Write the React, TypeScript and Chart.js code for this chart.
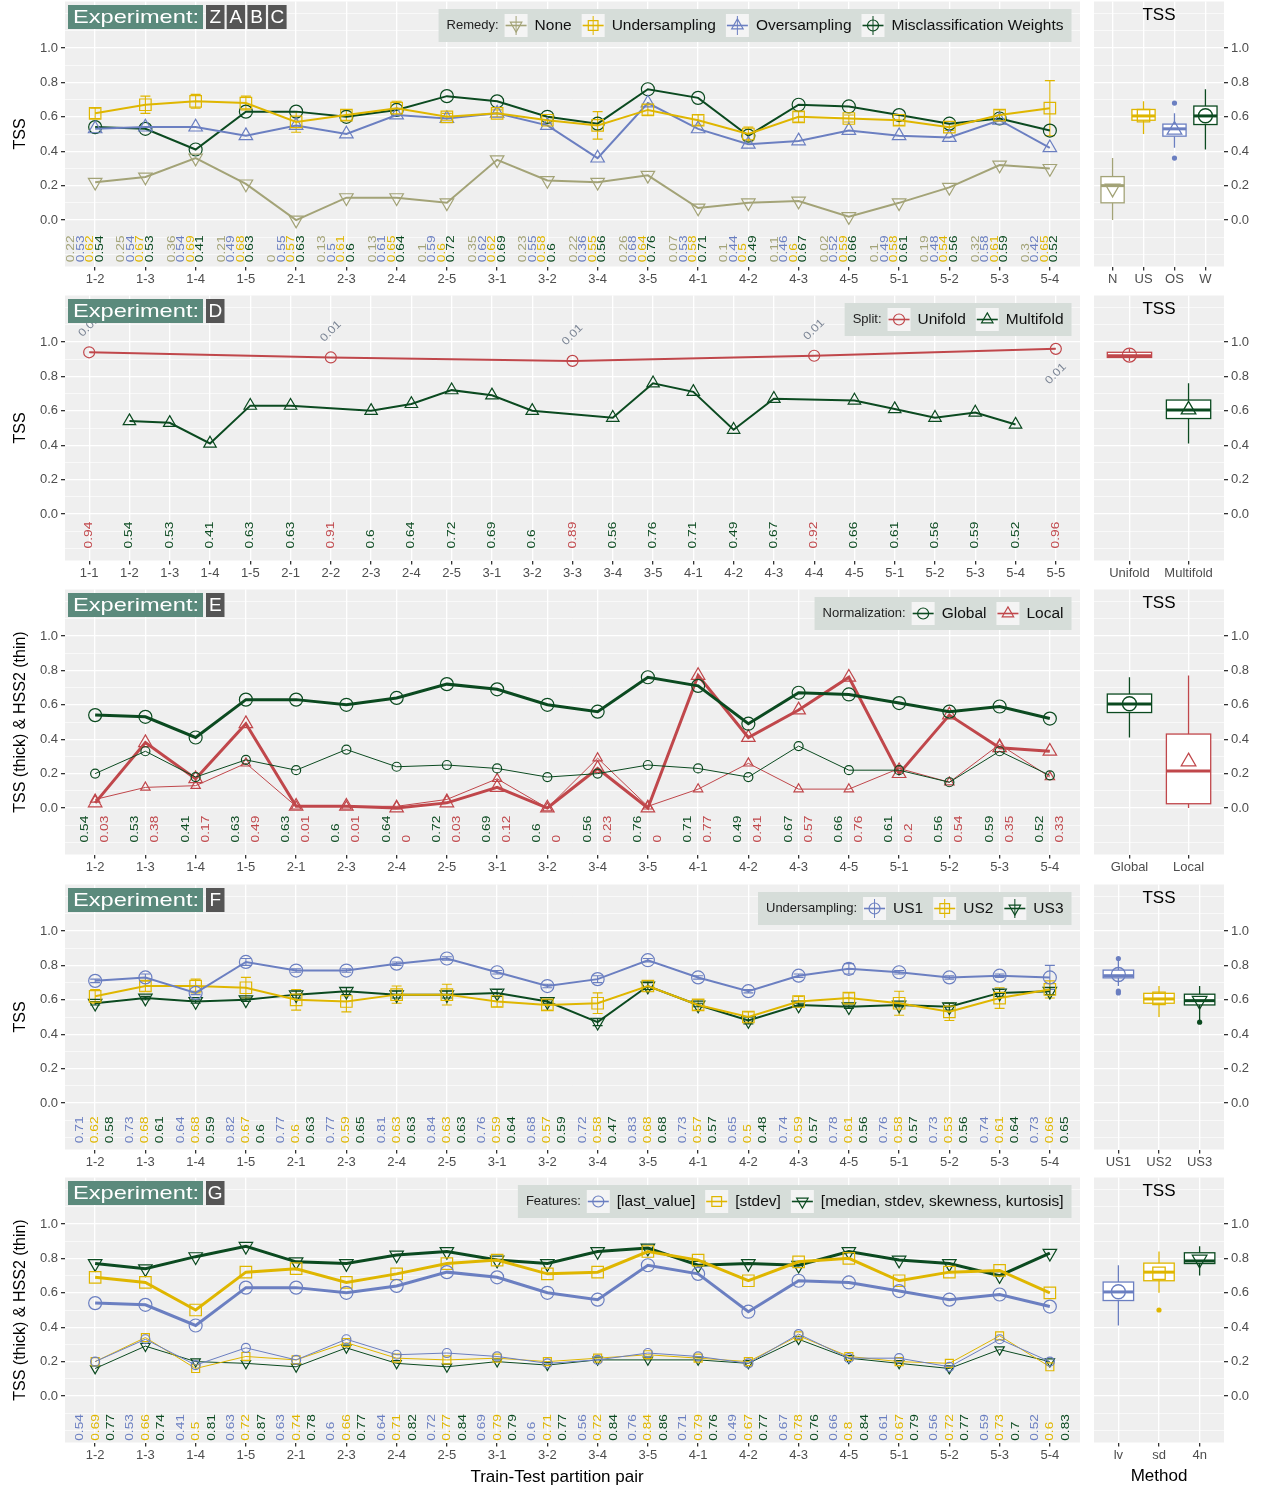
import React, { useEffect, useRef } from 'react';
import { Chart, registerables } from 'chart.js';
Chart.register(...registerables);

const FONT = '"Liberation Sans", Arial, Helvetica, sans-serif';
const TICK = '#4d4d4d';
const PANEL_BG = '#efefef';
const OLIVE = '#a3a377';
const GOLD = '#dfb600';
const BLUE = '#6b7fc1';
const GREEN = '#0b4a20';
const RED = '#c0474b';

const PAIRS = ['1-2','1-3','1-4','1-5','2-1','2-3','2-4','2-5','3-1','3-2','3-4','3-5','4-1','4-2','4-3','4-5','5-1','5-2','5-3','5-4'];
const PAIRS_ALL = ['1-1','1-2','1-3','1-4','1-5','2-1','2-2','2-3','2-4','2-5','3-1','3-2','3-3','3-4','3-5','4-1','4-2','4-3','4-4','4-5','5-1','5-2','5-3','5-4','5-5'];

// Experiment Z A B C (remedies)
const remedyNone = [0.22,0.25,0.36,0.21,0,0.13,0.13,0.1,0.35,0.23,0.22,0.26,0.07,0.1,0.11,0.02,0.1,0.19,0.32,0.3];
const remedyUnder = [0.62,0.67,0.69,0.68,0.57,0.61,0.65,0.6,0.62,0.58,0.55,0.64,0.58,0.5,0.6,0.59,0.58,0.54,0.61,0.65];
const remedyUnderSd = [0.03,0.05,0.04,0.04,0.06,0.03,0.04,0.02,0.02,0.02,0.08,0.03,0.03,0.04,0.03,0.02,0.03,0.02,0.03,0.16];
const remedyOver = [0.53,0.54,0.54,0.49,0.55,0.5,0.61,0.59,0.62,0.55,0.36,0.68,0.53,0.44,0.46,0.52,0.49,0.48,0.58,0.42];
const remedyWeights = [0.54,0.53,0.41,0.63,0.63,0.6,0.64,0.72,0.69,0.6,0.56,0.76,0.71,0.49,0.67,0.66,0.61,0.56,0.59,0.52];
const remedyCats = ['N','US','OS','W'];

// Experiment D (split)
const unifoldPairs = ['1-1','2-2','3-3','4-4','5-5'];
const unifoldTss = [0.94,0.91,0.89,0.92,0.96];
const unifoldSd = [0.01,0.01,0.01,0.01,0.01];
const multifoldTss = [0.54,0.53,0.41,0.63,0.63,0.6,0.64,0.72,0.69,0.6,0.56,0.76,0.71,0.49,0.67,0.66,0.61,0.56,0.59,0.52];
const splitCats = ['Unifold','Multifold'];

// Experiment E (normalization)
const globalTss = [0.54,0.53,0.41,0.63,0.63,0.6,0.64,0.72,0.69,0.6,0.56,0.76,0.71,0.49,0.67,0.66,0.61,0.56,0.59,0.52];
const localTss = [0.03,0.38,0.17,0.49,0.01,0.01,0,0.03,0.12,0,0.23,0,0.77,0.41,0.57,0.76,0.2,0.54,0.35,0.33];
const globalHss = [0.2,0.33,0.18,0.28,0.22,0.34,0.24,0.25,0.23,0.18,0.2,0.25,0.23,0.18,0.36,0.22,0.22,0.15,0.33,0.19];
const localHss = [0.05,0.12,0.13,0.26,0.01,0.01,0.01,0.05,0.17,0,0.29,0.01,0.11,0.26,0.11,0.11,0.23,0.15,0.37,0.18];
const normCats = ['Global','Local'];

// Experiment F (undersampling)
const us1 = [0.71,0.73,0.64,0.82,0.77,0.77,0.81,0.84,0.76,0.68,0.72,0.83,0.73,0.65,0.74,0.78,0.76,0.73,0.74,0.73];
const us1Sd = [0.01,0.02,0.01,0.02,0.01,0.01,0.01,0.01,0.01,0.01,0.02,0.01,0.01,0.01,0.01,0.03,0.01,0.01,0.01,0.07];
const us2 = [0.62,0.68,0.68,0.67,0.6,0.59,0.63,0.63,0.59,0.57,0.58,0.68,0.57,0.5,0.59,0.61,0.58,0.53,0.61,0.66];
const us2Sd = [0.04,0.03,0.04,0.06,0.06,0.06,0.05,0.06,0.03,0.03,0.06,0.03,0.03,0.03,0.03,0.03,0.07,0.05,0.06,0.05];
const us3 = [0.58,0.61,0.59,0.6,0.63,0.65,0.63,0.63,0.64,0.59,0.47,0.68,0.57,0.48,0.57,0.56,0.57,0.56,0.64,0.65];
const us3Sd = [0.01,0.01,0.01,0.01,0.02,0.02,0.02,0.02,0.02,0.01,0.02,0.02,0.01,0.02,0.01,0.01,0.01,0.02,0.02,0.02];
const usCats = ['US1','US2','US3'];

// Experiment G (features)
const featLast = [0.54,0.53,0.41,0.63,0.63,0.6,0.64,0.72,0.69,0.6,0.56,0.76,0.71,0.49,0.67,0.66,0.61,0.56,0.59,0.52];
const featStdev = [0.69,0.66,0.5,0.72,0.74,0.66,0.71,0.77,0.79,0.71,0.72,0.84,0.79,0.67,0.78,0.8,0.67,0.72,0.73,0.6];
const feat4n = [0.77,0.74,0.81,0.87,0.78,0.77,0.82,0.84,0.79,0.77,0.84,0.86,0.76,0.77,0.76,0.84,0.79,0.77,0.7,0.83];
const featLastHss = [0.2,0.33,0.18,0.28,0.21,0.33,0.24,0.25,0.23,0.19,0.21,0.25,0.23,0.19,0.36,0.22,0.22,0.17,0.33,0.2];
const featStdevHss = [0.2,0.34,0.16,0.23,0.21,0.31,0.22,0.21,0.22,0.2,0.22,0.24,0.22,0.2,0.35,0.23,0.2,0.19,0.35,0.17];
const feat4nHss = [0.16,0.29,0.2,0.19,0.17,0.28,0.19,0.17,0.2,0.18,0.21,0.21,0.21,0.19,0.33,0.22,0.19,0.16,0.27,0.2];
const featCats = ['lv','sd','4n'];

type Shape = 'circle' | 'rect' | 'triangle' | 'down';
interface LineSeries { label: string; xs: number[]; values: number[]; color: string; shape: Shape; lineWidth: number; r: number; sd?: number[]; }
interface LabelSet { xs: number[]; values: number[]; color: string; offset: number; }
interface LegendItem { label: string; color: string; shape: Shape; }
interface Note { x: number; y: number; text: string; dy: number; color: string; }
interface LeftSpec {
  top: number; height: number; tickLabels: string[]; series: LineSeries[]; labels: LabelSet[]; labelBase: number;
  letters: string[]; legendTitle: string; legend: LegendItem[]; legendBars: boolean; yTitle: string; xTitle?: string; notes?: Note[];
}
interface BoxGroup { cat: string; values: number[]; color: string; shape: Shape; }
interface RightSpec { top: number; height: number; groups: BoxGroup[]; xTitle?: string; }

const idx = (n: number) => Array.from({ length: n }, (_, i) => i + 1);
const X20 = idx(20);
const fmt = (v: number) => String(Math.round(v * 100) / 100);
const isMajor = (v: number) => { const k = Math.round(v * 10); return Math.abs(v * 10 - k) < 1e-6 && k >= 0 && k <= 10 && k % 2 === 0; };
const Y_TICKS = Array.from({ length: 15 }, (_, i) => Math.round((-0.2 + i * 0.1) * 10) / 10);

function shapePath(ctx: CanvasRenderingContext2D, shape: Shape, x: number, y: number, r: number) {
  ctx.beginPath();
  if (shape === 'circle') ctx.arc(x, y, r, 0, Math.PI * 2);
  else if (shape === 'rect') { const s = r * 0.88; ctx.rect(x - s, y - s, 2 * s, 2 * s); }
  else {
    const R = r * 1.2; const d = shape === 'triangle' ? 1 : -1;
    ctx.moveTo(x, y - d * R);
    ctx.lineTo(x + R * 0.866, y + d * R * 0.5);
    ctx.lineTo(x - R * 0.866, y + d * R * 0.5);
    ctx.closePath();
  }
}

function ptStyle(shape: Shape, r: number) {
  if (shape === 'circle') return { pointStyle: 'circle', pointRadius: r, pointRotation: 0 };
  if (shape === 'rect') return { pointStyle: 'rect', pointRadius: r * 1.25, pointRotation: 0 };
  if (shape === 'triangle') return { pointStyle: 'triangle', pointRadius: r * 1.2, pointRotation: 0 };
  return { pointStyle: 'triangle', pointRadius: r * 1.2, pointRotation: 180 };
}

function fitText(ctx: CanvasRenderingContext2D, text: string, x: number, y: number, width: number) {
  const w = ctx.measureText(text).width;
  ctx.save(); ctx.translate(x, y); ctx.scale(width / w, 1); ctx.fillText(text, 0, 0); ctx.restore();
}

function drawStrip(ctx: CanvasRenderingContext2D, a: any, letters: string[]) {
  const x0 = a.left + 3, y0 = a.top + 3.5, h = 24;
  ctx.save();
  ctx.fillStyle = '#5b8a7c'; ctx.fillRect(x0, y0, 135, h);
  ctx.fillStyle = '#fff'; ctx.font = `19px ${FONT}`; ctx.textBaseline = 'middle'; ctx.textAlign = 'left';
  fitText(ctx, 'Experiment:', x0 + 5, y0 + h / 2 + 1, 126);
  let x = x0 + 138;
  for (const L of letters) {
    ctx.fillStyle = '#555555'; ctx.fillRect(x, y0, 18.5, h);
    ctx.fillStyle = '#fff'; ctx.textAlign = 'center';
    ctx.fillText(L, x + 9.25, y0 + h / 2 + 1);
    x += 20.7;
  }
  ctx.restore();
}

function drawLegend(ctx: CanvasRenderingContext2D, a: any, title: string, items: LegendItem[], bars: boolean) {
  ctx.save();
  ctx.font = `13px ${FONT}`; const tw = ctx.measureText(title).width;
  ctx.font = `15.5px ${FONT}`; const ws = items.map(it => ctx.measureText(it.label).width);
  const key = 23, gapKT = 7, gapItems = 10, padL = 8, padR = 8, gapTitle = 6, h = 33;
  const total = padL + tw + gapTitle + items.reduce((s, _, i) => s + key + gapKT + ws[i], 0) + gapItems * (items.length - 1) + padR;
  const right = a.right - 8.5, left = right - total, top = a.top + 7.5;
  ctx.fillStyle = '#d6ddd9'; ctx.fillRect(left, top, total, h);
  ctx.textBaseline = 'middle'; ctx.textAlign = 'left';
  ctx.fillStyle = '#222'; ctx.font = `13px ${FONT}`; ctx.fillText(title, left + padL, top + h / 2);
  let x = left + padL + tw + gapTitle;
  items.forEach((it, i) => {
    const ky = top + (h - key) / 2;
    ctx.fillStyle = '#f4f4f4'; ctx.fillRect(x, ky, key, key);
    const cx = x + key / 2, cy = ky + key / 2;
    ctx.strokeStyle = it.color; ctx.lineWidth = 1.6;
    ctx.beginPath(); ctx.moveTo(x + 1, cy); ctx.lineTo(x + key - 1, cy); ctx.stroke();
    if (bars) { ctx.lineWidth = 1; ctx.beginPath(); ctx.moveTo(cx, ky + 2); ctx.lineTo(cx, ky + key - 2); ctx.stroke(); }
    ctx.lineWidth = 1.2; shapePath(ctx, it.shape, cx, cy, 5.5); ctx.stroke();
    x += key + gapKT;
    ctx.fillStyle = '#111'; ctx.font = `15.5px ${FONT}`; ctx.fillText(it.label, x, cy);
    x += ws[i] + gapItems;
  });
  ctx.restore();
}

function yScaleOpts(position: 'left' | 'right', width: number, title?: string) {
  return {
    type: 'linear', position, min: -0.27, max: 1.27,
    afterBuildTicks: (s: any) => { s.ticks = Y_TICKS.map(v => ({ value: v })); },
    afterFit: (s: any) => { s.width = width; s.paddingTop = 0; s.paddingBottom = 0; },
    ticks: { callback: (v: any) => (isMajor(v) ? Number(v).toFixed(1) : ''), color: TICK, font: { family: FONT, size: 13 }, padding: 3, autoSkip: false },
    grid: {
      color: '#ffffff',
      lineWidth: (c: any) => (c.tick && isMajor(c.tick.value) ? 1.3 : 0.6),
      tickColor: (c: any) => (c.tick && isMajor(c.tick.value) ? '#333333' : 'rgba(0,0,0,0)'),
      tickLength: 4, drawTicks: true,
    },
    border: { display: false },
    title: title ? { display: true, text: title, color: '#000', font: { family: FONT, size: 16 }, padding: { top: 11, bottom: 0 } } : { display: false },
  };
}

function xScaleOpts(labels: string[], height: number) {
  return {
    type: 'linear', min: 0.4, max: labels.length + 0.6,
    afterBuildTicks: (s: any) => { s.ticks = labels.map((_, i) => ({ value: i + 1 })); },
    afterFit: (s: any) => { s.height = height; s.paddingLeft = 0; s.paddingRight = 0; },
    ticks: { callback: (v: any) => labels[Math.round(v) - 1] ?? '', color: TICK, font: { family: FONT, size: 13 }, padding: 1, maxRotation: 0, autoSkip: false },
    grid: { color: '#ffffff', lineWidth: 1.3, tickColor: '#333333', tickLength: 4, drawTicks: true },
    border: { display: false },
  };
}

function bgPlugin(ctx: CanvasRenderingContext2D, a: any) {
  ctx.save(); ctx.fillStyle = PANEL_BG; ctx.fillRect(a.left, a.top, a.right - a.left, a.bottom - a.top); ctx.restore();
}

function leftConfig(spec: LeftSpec): any {
  const datasets = spec.series.map(s => ({
    type: 'line', label: s.label,
    data: s.xs.map((x, i) => ({ x, y: s.values[i] })),
    borderColor: s.color, backgroundColor: s.color, borderWidth: s.lineWidth,
    pointBorderColor: s.color, pointBackgroundColor: 'rgba(0,0,0,0)', pointBorderWidth: 1.2,
    ...ptStyle(s.shape, s.r), tension: 0, fill: false,
  }));
  const plugin = {
    id: 'leftDecor',
    beforeDraw(chart: any) { bgPlugin(chart.ctx, chart.chartArea); },
    beforeDatasetsDraw(chart: any) {
      const { ctx } = chart; const xs = chart.scales.x, ys = chart.scales.y;
      ctx.save();
      for (const s of spec.series) {
        if (!s.sd) continue;
        ctx.strokeStyle = s.color; ctx.lineWidth = 1.1;
        s.xs.forEach((xv, i) => {
          const px = xs.getPixelForValue(xv);
          const y1 = ys.getPixelForValue(s.values[i] - s.sd![i]);
          const y2 = ys.getPixelForValue(s.values[i] + s.sd![i]);
          ctx.beginPath();
          ctx.moveTo(px, y1); ctx.lineTo(px, y2);
          ctx.moveTo(px - 5, y1); ctx.lineTo(px + 5, y1);
          ctx.moveTo(px - 5, y2); ctx.lineTo(px + 5, y2);
          ctx.stroke();
        });
      }
      ctx.restore();
    },
    afterDatasetsDraw(chart: any) {
      const { ctx } = chart; const xs = chart.scales.x, ys = chart.scales.y;
      ctx.save();
      ctx.font = `11px ${FONT}`; ctx.textAlign = 'left'; ctx.textBaseline = 'middle';
      const by = ys.getPixelForValue(spec.labelBase);
      for (const L of spec.labels) {
        ctx.fillStyle = L.color;
        L.xs.forEach((xv, i) => {
          const px = xs.getPixelForValue(xv) + L.offset;
          ctx.save(); ctx.translate(px, by); ctx.rotate(-Math.PI / 2); ctx.scale(1.25, 1);
          ctx.fillText(fmt(L.values[i]), 0, 0); ctx.restore();
        });
      }
      if (spec.notes) {
        ctx.textAlign = 'center';
        for (const n of spec.notes) {
          ctx.fillStyle = n.color;
          const px = xs.getPixelForValue(n.x), py = ys.getPixelForValue(n.y) + n.dy;
          ctx.save(); ctx.translate(px, py); ctx.rotate(-Math.PI / 4); ctx.scale(1.15, 1);
          ctx.fillText(n.text, 0, 0); ctx.restore();
        }
      }
      ctx.restore();
    },
    afterDraw(chart: any) {
      const { ctx, chartArea } = chart;
      drawStrip(ctx, chartArea, spec.letters);
      drawLegend(ctx, chartArea, spec.legendTitle, spec.legend, spec.legendBars);
      if (spec.xTitle) {
        ctx.save(); ctx.fillStyle = '#000'; ctx.font = `17px ${FONT}`; ctx.textAlign = 'center'; ctx.textBaseline = 'middle';
        ctx.fillText(spec.xTitle, 557, spec.height - 13); ctx.restore();
      }
    },
  };
  return {
    type: 'line',
    data: { datasets },
    options: {
      animation: false, responsive: false, events: [],
      layout: { autoPadding: false, padding: { top: 1.5, right: 0, left: 0, bottom: 0 } },
      plugins: { legend: { display: false }, tooltip: { enabled: false } },
      scales: { x: xScaleOpts(spec.tickLabels, spec.height - 1.5 - 265), y: yScaleOpts('left', 65, spec.yTitle) },
    },
    plugins: [plugin],
  };
}

function q7(s: number[], p: number) { const h = (s.length - 1) * p; const lo = Math.floor(h), hi = Math.ceil(h); return s[lo] + (h - lo) * (s[hi] - s[lo]); }
function boxStats(vals: number[]) {
  const s = [...vals].sort((a, b) => a - b);
  const q1 = q7(s, 0.25), med = q7(s, 0.5), q3 = q7(s, 0.75), iqr = q3 - q1;
  const lf = q1 - 1.5 * iqr, uf = q3 + 1.5 * iqr;
  const inside = s.filter(v => v >= lf && v <= uf);
  return { q1, med, q3, lo: inside[0], hi: inside[inside.length - 1], out: s.filter(v => v < lf || v > uf), mean: s.reduce((a, b) => a + b, 0) / s.length };
}

function rightConfig(spec: RightSpec): any {
  const stats = spec.groups.map(g => boxStats(g.values));
  const datasets: any[] = [];
  spec.groups.forEach((g, i) => {
    datasets.push({
      type: 'scatter', data: [{ x: i + 1, y: stats[i].mean }],
      borderColor: g.color, pointBorderColor: g.color, pointBackgroundColor: 'rgba(0,0,0,0)', pointBorderWidth: 1.3,
      ...ptStyle(g.shape, 7),
    });
    datasets.push({
      type: 'scatter', data: stats[i].out.map(v => ({ x: i + 1, y: v })),
      pointBorderColor: g.color, pointBackgroundColor: g.color, pointStyle: 'circle', pointRadius: 2.6, pointBorderWidth: 0,
    });
  });
  const plugin = {
    id: 'rightDecor',
    beforeDraw(chart: any) { bgPlugin(chart.ctx, chart.chartArea); },
    beforeDatasetsDraw(chart: any) {
      const { ctx } = chart; const xs = chart.scales.x, ys = chart.scales.y;
      ctx.save();
      spec.groups.forEach((g, i) => {
        const st = stats[i];
        const cx = xs.getPixelForValue(i + 1);
        const l = xs.getPixelForValue(i + 1 - 0.375), r = xs.getPixelForValue(i + 1 + 0.375);
        const yq1 = ys.getPixelForValue(st.q1), yq3 = ys.getPixelForValue(st.q3);
        ctx.strokeStyle = g.color; ctx.lineWidth = 1.3;
        ctx.beginPath();
        ctx.moveTo(cx, ys.getPixelForValue(st.hi)); ctx.lineTo(cx, yq3);
        ctx.moveTo(cx, yq1); ctx.lineTo(cx, ys.getPixelForValue(st.lo));
        ctx.stroke();
        ctx.fillStyle = '#ffffff'; ctx.fillRect(l, yq3, r - l, yq1 - yq3);
        ctx.strokeRect(l, yq3, r - l, yq1 - yq3);
        ctx.lineWidth = 3; ctx.beginPath();
        const ym = ys.getPixelForValue(st.med); ctx.moveTo(l, ym); ctx.lineTo(r, ym); ctx.stroke();
      });
      ctx.restore();
    },
    afterDraw(chart: any) {
      const { ctx, chartArea: a } = chart;
      ctx.save(); ctx.fillStyle = '#000'; ctx.font = `17px ${FONT}`; ctx.textAlign = 'center'; ctx.textBaseline = 'middle';
      ctx.fillText('TSS', (a.left + a.right) / 2, a.top + 14);
      if (spec.xTitle) ctx.fillText(spec.xTitle, (a.left + a.right) / 2, spec.height - 14);
      ctx.restore();
    },
  };
  return {
    type: 'scatter',
    data: { datasets },
    options: {
      animation: false, responsive: false, events: [],
      layout: { autoPadding: false, padding: { top: 1.5, right: 0, left: 6, bottom: 0 } },
      plugins: { legend: { display: false }, tooltip: { enabled: false } },
      scales: { x: xScaleOpts(spec.groups.map(g => g.cat), spec.height - 1.5 - 265), y: yScaleOpts('right', 38) },
    },
    plugins: [plugin],
  };
}

const ROW_TOPS = [0, 294, 588, 883, 1176];
const ROW_H = [294, 294, 295, 293, 314];

const unifoldX = unifoldPairs.map(p => PAIRS_ALL.indexOf(p) + 1);
const multifoldX = PAIRS.map(p => PAIRS_ALL.indexOf(p) + 1);

const leftSpecs: LeftSpec[] = [
  {
    top: ROW_TOPS[0], height: ROW_H[0], tickLabels: PAIRS, labelBase: -0.245,
    series: [
      { label: 'None', xs: X20, values: remedyNone, color: OLIVE, shape: 'down', lineWidth: 2, r: 6.5 },
      { label: 'Undersampling', xs: X20, values: remedyUnder, color: GOLD, shape: 'rect', lineWidth: 2, r: 6.5, sd: remedyUnderSd },
      { label: 'Oversampling', xs: X20, values: remedyOver, color: BLUE, shape: 'triangle', lineWidth: 2, r: 6.5 },
      { label: 'Misclassification Weights', xs: X20, values: remedyWeights, color: GREEN, shape: 'circle', lineWidth: 2, r: 6.5 },
    ],
    labels: [
      { xs: X20, values: remedyNone, color: OLIVE, offset: -24 },
      { xs: X20, values: remedyOver, color: BLUE, offset: -14.5 },
      { xs: X20, values: remedyUnder, color: GOLD, offset: -5 },
      { xs: X20, values: remedyWeights, color: GREEN, offset: 4.5 },
    ],
    letters: ['Z', 'A', 'B', 'C'], legendTitle: 'Remedy:', legendBars: true,
    legend: [
      { label: 'None', color: OLIVE, shape: 'down' },
      { label: 'Undersampling', color: GOLD, shape: 'rect' },
      { label: 'Oversampling', color: BLUE, shape: 'triangle' },
      { label: 'Misclassification Weights', color: GREEN, shape: 'circle' },
    ],
    yTitle: 'TSS',
  },
  {
    top: ROW_TOPS[1], height: ROW_H[1], tickLabels: PAIRS_ALL, labelBase: -0.2,
    series: [
      { label: 'Unifold', xs: unifoldX, values: unifoldTss, color: RED, shape: 'circle', lineWidth: 2, r: 5.5 },
      { label: 'Multifold', xs: multifoldX, values: multifoldTss, color: GREEN, shape: 'triangle', lineWidth: 2, r: 6 },
    ],
    labels: [
      { xs: unifoldX, values: unifoldTss, color: RED, offset: 0 },
      { xs: multifoldX, values: multifoldTss, color: GREEN, offset: 0 },
    ],
    notes: unifoldX.map((x, i) => ({ x, y: unifoldTss[i], text: fmt(unifoldSd[i]), dy: i === unifoldX.length - 1 ? 25 : -26, color: '#7a8494' })),
    letters: ['D'], legendTitle: 'Split:', legendBars: false,
    legend: [
      { label: 'Unifold', color: RED, shape: 'circle' },
      { label: 'Multifold', color: GREEN, shape: 'triangle' },
    ],
    yTitle: 'TSS',
  },
  {
    top: ROW_TOPS[2], height: ROW_H[2], tickLabels: PAIRS, labelBase: -0.2,
    series: [
      { label: 'Global HSS2', xs: X20, values: globalHss, color: GREEN, shape: 'circle', lineWidth: 1, r: 4.5 },
      { label: 'Local HSS2', xs: X20, values: localHss, color: RED, shape: 'triangle', lineWidth: 1, r: 4.5 },
      { label: 'Global', xs: X20, values: globalTss, color: GREEN, shape: 'circle', lineWidth: 3, r: 6.5 },
      { label: 'Local', xs: X20, values: localTss, color: RED, shape: 'triangle', lineWidth: 3, r: 6.5 },
    ],
    labels: [
      { xs: X20, values: globalTss, color: GREEN, offset: -10 },
      { xs: X20, values: localTss, color: RED, offset: 10 },
    ],
    letters: ['E'], legendTitle: 'Normalization:', legendBars: false,
    legend: [
      { label: 'Global', color: GREEN, shape: 'circle' },
      { label: 'Local', color: RED, shape: 'triangle' },
    ],
    yTitle: 'TSS (thick) & HSS2 (thin)',
  },
  {
    top: ROW_TOPS[3], height: ROW_H[3], tickLabels: PAIRS, labelBase: -0.233,
    series: [
      { label: 'US1', xs: X20, values: us1, color: BLUE, shape: 'circle', lineWidth: 2, r: 6.5, sd: us1Sd },
      { label: 'US2', xs: X20, values: us2, color: GOLD, shape: 'rect', lineWidth: 2, r: 6.5, sd: us2Sd },
      { label: 'US3', xs: X20, values: us3, color: GREEN, shape: 'down', lineWidth: 2, r: 6.5, sd: us3Sd },
    ],
    labels: [
      { xs: X20, values: us1, color: BLUE, offset: -15 },
      { xs: X20, values: us2, color: GOLD, offset: 0 },
      { xs: X20, values: us3, color: GREEN, offset: 15 },
    ],
    letters: ['F'], legendTitle: 'Undersampling:', legendBars: true,
    legend: [
      { label: 'US1', color: BLUE, shape: 'circle' },
      { label: 'US2', color: GOLD, shape: 'rect' },
      { label: 'US3', color: GREEN, shape: 'down' },
    ],
    yTitle: 'TSS',
  },
  {
    top: ROW_TOPS[4], height: ROW_H[4], tickLabels: PAIRS, labelBase: -0.26,
    series: [
      { label: 'lv HSS2', xs: X20, values: featLastHss, color: BLUE, shape: 'circle', lineWidth: 1, r: 4.5 },
      { label: 'sd HSS2', xs: X20, values: featStdevHss, color: GOLD, shape: 'rect', lineWidth: 1, r: 4.5 },
      { label: '4n HSS2', xs: X20, values: feat4nHss, color: GREEN, shape: 'down', lineWidth: 1, r: 4.5 },
      { label: '[last_value]', xs: X20, values: featLast, color: BLUE, shape: 'circle', lineWidth: 3, r: 6.5 },
      { label: '[stdev]', xs: X20, values: featStdev, color: GOLD, shape: 'rect', lineWidth: 3, r: 6.5 },
      { label: '[median, stdev, skewness, kurtosis]', xs: X20, values: feat4n, color: GREEN, shape: 'down', lineWidth: 3, r: 6.5 },
    ],
    labels: [
      { xs: X20, values: featLast, color: BLUE, offset: -15 },
      { xs: X20, values: featStdev, color: GOLD, offset: 0.5 },
      { xs: X20, values: feat4n, color: GREEN, offset: 16 },
    ],
    letters: ['G'], legendTitle: 'Features:', legendBars: false,
    legend: [
      { label: '[last_value]', color: BLUE, shape: 'circle' },
      { label: '[stdev]', color: GOLD, shape: 'rect' },
      { label: '[median, stdev, skewness, kurtosis]', color: GREEN, shape: 'down' },
    ],
    yTitle: 'TSS (thick) & HSS2 (thin)', xTitle: 'Train-Test partition pair',
  },
];

const rightSpecs: RightSpec[] = [
  { top: ROW_TOPS[0], height: ROW_H[0], groups: [
    { cat: remedyCats[0], values: remedyNone, color: OLIVE, shape: 'down' },
    { cat: remedyCats[1], values: remedyUnder, color: GOLD, shape: 'rect' },
    { cat: remedyCats[2], values: remedyOver, color: BLUE, shape: 'triangle' },
    { cat: remedyCats[3], values: remedyWeights, color: GREEN, shape: 'circle' },
  ] },
  { top: ROW_TOPS[1], height: ROW_H[1], groups: [
    { cat: splitCats[0], values: unifoldTss, color: RED, shape: 'circle' },
    { cat: splitCats[1], values: multifoldTss, color: GREEN, shape: 'triangle' },
  ] },
  { top: ROW_TOPS[2], height: ROW_H[2], groups: [
    { cat: normCats[0], values: globalTss, color: GREEN, shape: 'circle' },
    { cat: normCats[1], values: localTss, color: RED, shape: 'triangle' },
  ] },
  { top: ROW_TOPS[3], height: ROW_H[3], groups: [
    { cat: usCats[0], values: us1, color: BLUE, shape: 'circle' },
    { cat: usCats[1], values: us2, color: GOLD, shape: 'rect' },
    { cat: usCats[2], values: us3, color: GREEN, shape: 'down' },
  ] },
  { top: ROW_TOPS[4], height: ROW_H[4], groups: [
    { cat: featCats[0], values: featLast, color: BLUE, shape: 'circle' },
    { cat: featCats[1], values: featStdev, color: GOLD, shape: 'rect' },
    { cat: featCats[2], values: feat4n, color: GREEN, shape: 'down' },
  ], xTitle: 'Method' },
];

interface CanvasDef { x: number; y: number; w: number; h: number; make: () => any; }
const CANVASES: CanvasDef[] = [
  ...leftSpecs.map(s => ({ x: 0, y: s.top, w: 1080, h: s.height, make: () => leftConfig(s) })),
  ...rightSpecs.map(s => ({ x: 1088, y: s.top, w: 174, h: s.height, make: () => rightConfig(s) })),
];

export default function App() {
  const refs = useRef<(HTMLCanvasElement | null)[]>([]);
  useEffect(() => {
    const charts = CANVASES.map((c, i) => new Chart(refs.current[i] as HTMLCanvasElement, c.make()));
    return () => charts.forEach(ch => ch.destroy());
  }, []);
  return (
    <div style={{ position: 'absolute', left: 0, top: 0, width: 1262, height: 1490, background: '#fff' }}>
      {CANVASES.map((c, i) => (
        <canvas key={i} ref={el => { refs.current[i] = el; }} width={c.w} height={c.h}
          style={{ position: 'absolute', left: c.x, top: c.y, width: c.w, height: c.h }} />
      ))}
    </div>
  );
}
